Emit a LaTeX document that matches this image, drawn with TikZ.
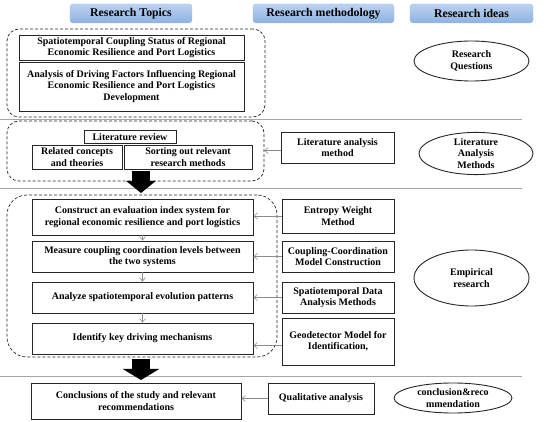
\documentclass[tikz,border=0pt]{standalone}
\usepackage{fontspec}
\setmainfont{Liberation Serif}
\usetikzlibrary{arrows.meta,shapes.geometric}
\definecolor{hdtop}{RGB}{188,210,240}
\definecolor{hdbot}{RGB}{140,178,226}
\begin{document}
\begin{tikzpicture}[x=1pt,y=-1pt,
  font=\bfseries\fontsize{10}{11.4}\selectfont,
  box/.style={draw=black!85, line width=0.9pt, align=center, inner sep=0pt},
  hdr/.style={rounded corners=3pt, top color=hdtop, bottom color=hdbot, draw=hdbot!80!white, line width=0.4pt,
    font=\bfseries\fontsize{11.8}{13}\selectfont, inner sep=0pt, minimum height=19},
  region/.style={draw=black!85, densely dashed, line width=0.7pt, inner sep=0pt},
  oval/.style={ellipse, draw=black!85, line width=0.9pt, align=center, inner sep=0pt},
  sep/.style={draw=black!35, line width=0.8pt},
  thin/.style={draw=black!45, line width=0.6pt, -{Straight Barb[length=3.5pt,width=6pt]}},
  bigarrow/.style={draw=black, line width=18pt}]
\useasboundingbox (0,0) rectangle (550,422);

% headers
\node[hdr, minimum width=122] (h1) at (131,13.5) {Research Topics};
\node[hdr, minimum width=141] (h2) at (323.5,13.5) {Research methodology};
\node[hdr, minimum width=123] (h3) at (471.5,13.5) {Research ideas};

% separators
\coordinate (s1a) at (0,119); \coordinate (s1b) at (522,119);
\coordinate (s2a) at (0,188); \coordinate (s2b) at (522,188);
\coordinate (s3a) at (0,376); \coordinate (s3b) at (522,376);
\draw[sep] (s1a) -- (s1b);
\draw[sep] (s2a) -- (s2b);
\draw[sep] (s3a) -- (s3b);

% section 1
\node[region, rounded corners=12pt, minimum width=258, minimum height=88] (r1) at (136,73) {};
\node[box, minimum width=225, minimum height=25] (b1) at (131.5,47.5)
  {Spatiotemporal Coupling Status of Regional\\Economic Resilience and Port Logistics};
\node[box, minimum width=225, minimum height=49] (b2) at (131.5,86.5)
  {Analysis of Driving Factors Influencing Regional\\Economic Resilience and Port Logistics\\Development};
\node[oval, minimum width=115, minimum height=40] (q1) at (471.5,61) {Research\\Questions};

% section 2
\node[region, rounded corners=12pt, minimum width=257, minimum height=60] (r2) at (135.5,151) {};
\node[box, minimum width=92, minimum height=13] (lr) at (130,137) {Literature review};
\node[box, minimum width=90, minimum height=24] (rc) at (77,157) {Related concepts\\and theories};
\node[box, minimum width=128, minimum height=24] (so) at (188,157) {Sorting out relevant\\research methods};
\node[box, minimum width=113, minimum height=31] (lam) at (337.5,147.5) {Literature analysis\\method};
\node[oval, minimum width=114, minimum height=41] (q2) at (476,153.5) {Literature\\Analysis\\Methods};
\draw[thin] ([yshift=-3]lam.west) -- ([yshift=-3]lam.west -| r2.east);

\coordinate (ba1s) at (141,171); \coordinate (ba1e) at (141,193);
\draw[bigarrow, -{Triangle[length=12pt,width=29pt]}] (ba1s) -- (ba1e);

% section 3
\node[region, rounded corners=20pt, minimum width=270, minimum height=162] (r3) at (142,276) {};
\node[box, minimum width=221, minimum height=36] (A) at (142.5,217)
  {Construct an evaluation index system for\\regional economic resilience and port logistics};
\node[box, minimum width=221, minimum height=31] (B) at (142.5,256.5)
  {Measure coupling coordination levels between\\the two systems};
\node[box, minimum width=221, minimum height=31] (C) at (142.5,297.5)
  {Analyze spatiotemporal evolution patterns};
\node[box, minimum width=221, minimum height=31] (D) at (142.5,338.5)
  {Identify key driving mechanisms};
\draw[thin] (A) -- (B);
\draw[thin] (B) -- (C);
\draw[thin] (C) -- (D);

\node[box, minimum width=112, minimum height=34] (E) at (338,216) {Entropy Weight\\Method};
\node[box, minimum width=112, minimum height=31] (CC) at (338,256.5) {Coupling-Coordination\\Model Construction};
\node[box, minimum width=112, minimum height=31] (SD) at (338,297.5) {Spatiotemporal Data\\Analysis Methods};
\node[box, minimum width=112, minimum height=47] (G) at (338,341.5) {Geodetector Model for\\Identification,};
\draw[thin] (E.west) -- (E.west -| A.east);
\draw[thin] (CC.west) -- (CC.west -| B.east);
\draw[thin] (SD.west) -- (SD.west -| C.east);
\draw[thin] ([yshift=-4]G.west) -- ([yshift=-4]G.west -| D.east);
\node[oval, minimum width=115, minimum height=56] (emp) at (471.5,278) {Empirical\\research};

\coordinate (ba2s) at (141,359); \coordinate (ba2e) at (141,380);
\draw[bigarrow, -{Triangle[length=11pt,width=36pt]}] (ba2s) -- (ba2e);

% section 4
\node[box, minimum width=210, minimum height=36] (conc) at (136,401)
  {Conclusions of the study and relevant\\recommendations};
\node[box, minimum width=106, minimum height=31] (qual) at (321,398.5) {Qualitative analysis};
\draw[thin] (qual.west) -- (qual.west -| conc.east);
\node[oval, minimum width=118, minimum height=30] (q4) at (453,398) {conclusion\&reco\\mmendation};
\end{tikzpicture}
\end{document}
